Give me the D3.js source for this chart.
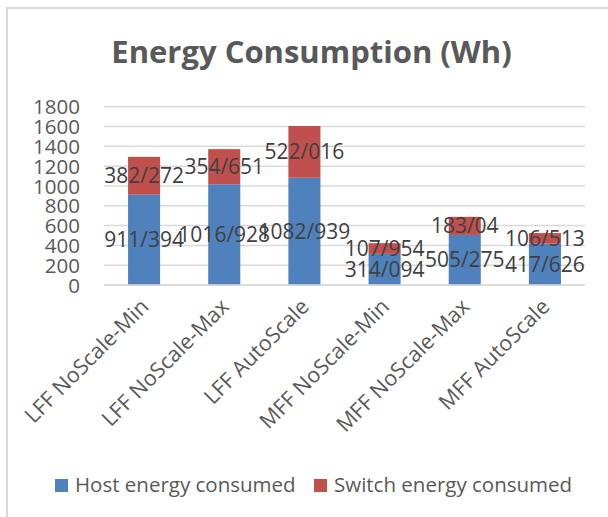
<!DOCTYPE html>
<html>
<head>
<meta charset="utf-8">
<script src="https://cdn.jsdelivr.net/npm/d3@7/dist/d3.min.js"></script>
<style>
  html, body { margin: 0; padding: 0; background: #fff; }
  svg { display: block; }
  text { font-family: "Open Sans", sans-serif; }
</style>
</head>
<body>
<svg id="chart" width="608" height="517"></svg>
<script>
// Stacked energy consumption per placement strategy (Wh)
const categories = ["LFF NoScale-Min", "LFF NoScale-Max", "LFF AutoScale",
                    "MFF NoScale-Min", "MFF NoScale-Max", "MFF AutoScale"];
const hostEnergy   = [911.394, 1016.928, 1082.939, 314.094, 505.275, 417.626];
const switchEnergy = [382.272, 354.651, 522.016, 107.954, 183.04, 106.513];
const seriesNames  = ["Host energy consumed", "Switch energy consumed"];
const yTicks = [0, 200, 400, 600, 800, 1000, 1200, 1400, 1600, 1800];

const colors = ["#4F81BD", "#C0504D"];
const seriesKeys = ["host", "sw"];
const svg = d3.select("#chart");

// chart-area border
svg.append("rect")
  .attr("x", 7).attr("y", 8).attr("width", 620).attr("height", 530)
  .attr("fill", "#fff").attr("stroke", "#D9D9D9").attr("stroke-width", 2);

// title
svg.append("text")
  .attr("x", 311.5).attr("y", 63)
  .attr("text-anchor", "middle")
  .attr("font-size", 31).attr("font-weight", 700)
  .attr("fill", "#595959")
  .text("Energy Consumption (Wh)");

const plot = { left: 104, right: 585, top: 106.7, bottom: 285 };

const x = d3.scaleBand()
  .domain(categories)
  .range([plot.left, plot.right])
  .paddingInner(0.6).paddingOuter(0.3);

const y = d3.scaleLinear()
  .domain([0, 1800])
  .range([plot.bottom, plot.top]);

// gridlines
svg.append("g")
  .selectAll("line")
  .data(yTicks)
  .join("line")
  .attr("x1", plot.left).attr("x2", plot.right)
  .attr("y1", d => y(d)).attr("y2", d => y(d))
  .attr("stroke", "#D9D9D9").attr("stroke-width", 1.5);

// y axis labels
const yAxis = d3.axisLeft(y).tickValues(yTicks).tickFormat(d3.format("d"))
  .tickSize(0).tickPadding(0);
const yg = svg.append("g")
  .attr("transform", `translate(80,0)`)
  .call(yAxis);
yg.select(".domain").remove();
yg.selectAll("text")
  .attr("font-size", 20.5)
  .attr("font-family", "Open Sans, sans-serif")
  .attr("fill", "#595959")
  .attr("dy", "0.35em");

// stacked data
const rows = categories.map((c, i) => ({ cat: c, host: hostEnergy[i], sw: switchEnergy[i] }));
const stack = d3.stack().keys(seriesKeys)(rows);

const layers = svg.append("g")
  .selectAll("g")
  .data(stack)
  .join("g")
  .attr("fill", (d, i) => colors[i]);

layers.selectAll("rect")
  .data(d => d)
  .join("rect")
  .attr("x", d => x(d.data.cat))
  .attr("width", x.bandwidth())
  .attr("y", d => y(d[1]))
  .attr("height", d => y(d[0]) - y(d[1]));

// bottom axis line
svg.append("line")
  .attr("x1", plot.left).attr("x2", plot.right)
  .attr("y1", plot.bottom).attr("y2", plot.bottom)
  .attr("stroke", "#D9D9D9").attr("stroke-width", 1.5);

// category labels, rotated
const xAxis = d3.axisBottom(x).tickSize(0).tickPadding(0);
const xg = svg.append("g")
  .attr("transform", `translate(0,${plot.bottom})`)
  .call(xAxis);
xg.select(".domain").remove();
xg.selectAll("text")
  .attr("font-size", 21.5)
  .attr("font-family", "Open Sans, sans-serif")
  .attr("fill", "#595959")
  .attr("text-anchor", "end")
  .attr("y", 0).attr("dy", 0)
  .attr("transform", "translate(6,23) rotate(-45)");

// data labels, "/" as the decimal separator
const fmt = v => String(v).replace(".", "/");
const labels = svg.append("g");
stack.forEach(layer => {
  labels.selectAll(null)
    .data(layer)
    .join("text")
    .attr("x", d => x(d.data.cat) + x.bandwidth() / 2)
    .attr("y", d => y((d[0] + d[1]) / 2))
    .attr("dy", "0.35em")
    .attr("text-anchor", "middle")
    .attr("font-size", 21)
    .attr("fill", "#404040")
    .text(d => fmt(d.data[layer.key]));
});

// legend
const legendX = [55, 314];
const lg = svg.append("g");
seriesNames.forEach((name, i) => {
  lg.append("rect")
    .attr("x", legendX[i]).attr("y", 479)
    .attr("width", 13).attr("height", 13)
    .attr("fill", colors[i]);
  lg.append("text")
    .attr("x", legendX[i] + 20).attr("y", 492)
    .attr("font-size", 20.5)
    .attr("fill", "#595959")
    .text(name);
});
</script>
</body>
</html>
